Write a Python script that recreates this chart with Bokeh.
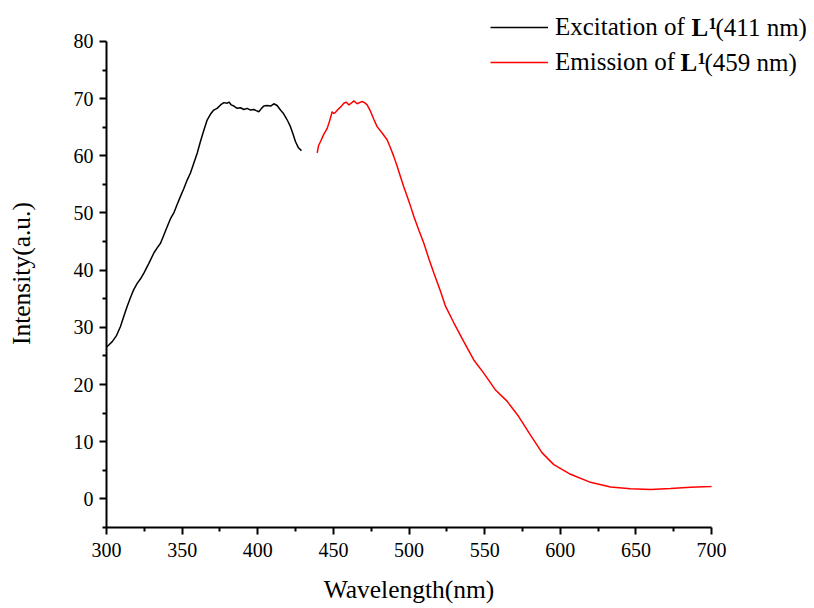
from bokeh.plotting import figure
from bokeh.models import Range1d, Legend, LegendItem, Label, FixedTicker
from bokeh.embed import file_html
from bokeh.resources import INLINE

# ---- data ----
exc_wl = [300.0, 301.5, 303.8, 306.5, 309.3, 311.5, 313.7, 316.0, 318.0, 320.3, 322.5, 324.7,
          328.0, 331.3, 333.5, 335.7, 338.0, 340.1, 342.3, 344.5, 346.7, 348.9, 351.0, 353.4,
          355.5, 357.7, 360.0, 362.1, 364.4, 366.6, 368.8, 370.9, 373.1, 375.4, 377.6, 379.8,
          381.0, 382.5, 384.2, 386.4, 388.6, 390.8, 393.0, 395.2, 397.4, 399.0, 400.7, 402.5,
          404.0, 406.0, 408.5, 410.6, 412.8, 415.0, 416.7, 418.3, 420.0, 421.6, 423.2, 424.9,
          426.9, 428.9]
exc_int = [26.6, 26.9, 27.5, 28.5, 30.2, 32.0, 33.7, 35.3, 36.6, 37.7, 38.5, 39.5,
           41.2, 43.0, 43.9, 44.7, 46.2, 47.6, 49.0, 50.0, 51.5, 52.9, 54.2, 55.8,
           57.0, 58.7, 60.5, 62.5, 64.5, 66.3, 67.3, 68.0, 68.3, 68.9, 69.3, 69.2,
           69.4, 68.9, 68.7, 68.3, 68.4, 68.1, 68.3, 68.0, 68.1, 67.9, 67.7, 68.3,
           68.7, 68.8, 68.7, 69.1, 68.8, 68.0, 67.5, 66.8, 66.0, 65.1, 63.9, 62.5,
           61.4, 60.9]

em_wl = [439.3, 440.2, 441.5, 443.7, 445.9, 447.6, 449.2, 450.3, 451.4, 453.0, 455.0, 456.9,
         458.5, 460.2, 461.8, 463.5, 465.7, 467.3, 469.0, 470.6, 472.3, 474.5, 476.7, 478.9,
         482.2, 485.5, 487.7, 489.9, 492.1, 494.3, 496.5, 498.8, 501.0, 503.2, 506.5, 509.8,
         513.1, 516.4, 520.8, 524.1, 529.6, 536.2, 542.8, 549.4, 557.0, 564.8, 572.5, 580.2,
         588.0, 595.7, 606.8, 620.0, 633.2, 646.4, 659.7, 672.9, 686.1, 699.3, 700.0]
em_int = [60.5, 61.8, 62.5, 63.8, 64.8, 66.2, 67.7, 67.4, 67.6, 68.1, 68.6, 69.2,
          69.4, 68.9, 69.2, 69.6, 69.1, 69.3, 69.5, 69.3, 68.9, 67.8, 66.4, 65.1,
          64.0, 62.8, 61.4, 59.9, 58.2, 56.4, 54.6, 52.9, 51.2, 49.4, 47.0, 44.7,
          42.0, 39.5, 36.3, 33.7, 30.8, 27.5, 24.3, 22.0, 19.1, 17.1, 14.4, 11.2,
          8.05, 6.0, 4.3, 2.9, 2.1, 1.76, 1.64, 1.8, 2.05, 2.17, 2.18]

x_ticks = [300, 350, 400, 450, 500, 550, 600, 650, 700]
x_minor = [325, 375, 425, 475, 525, 575, 625, 675]
y_ticks = [0, 10, 20, 30, 40, 50, 60, 70, 80]
y_minor = [-5, 5, 15, 25, 35, 45, 55, 65, 75]

FONT = "Liberation Serif"

# the frame reaches the top/right of the canvas so the legend (outside the axes) is not clipped;
# axis bounds keep the axis lines at 300-700 nm and -5-80.
p = figure(width=813, height=606, output_backend="svg", toolbar_location=None,
           x_range=Range1d(300, 767.4), y_range=Range1d(-5, 87.16),
           min_border_left=106, min_border_right=0, min_border_top=0, min_border_bottom=78)
p.outline_line_color = None
p.xgrid.visible = False
p.ygrid.visible = False
p.background_fill_color = "white"
p.border_fill_color = "white"

p.xaxis.ticker = FixedTicker(ticks=x_ticks, minor_ticks=x_minor)
p.yaxis.ticker = FixedTicker(ticks=y_ticks, minor_ticks=y_minor)
p.xaxis.bounds = (300, 700)
p.yaxis.bounds = (-5, 80)
# non-breaking spaces shift the centred labels over the bounded span of each axis
p.xaxis.axis_label = "Wavelength(nm)" + "\u00a0" * 16
p.yaxis.axis_label = "Intensity(a.u.)" + "\u00a0" * 3
for ax in (p.xaxis, p.yaxis):
    ax.axis_line_width = 2
    ax.axis_line_color = "black"
    ax.major_tick_line_width = 2
    ax.minor_tick_line_width = 2
    ax.major_tick_line_color = "black"
    ax.minor_tick_line_color = "black"
    ax.major_tick_out = 7
    ax.major_tick_in = 0
    ax.minor_tick_out = 4
    ax.minor_tick_in = 0
    ax.major_label_text_font = FONT
    ax.major_label_text_font_size = "20px"
    ax.major_label_text_color = "black"
    ax.axis_label_text_font = FONT
    ax.axis_label_text_font_size = "25.5px"
    ax.axis_label_text_font_style = "normal"
    ax.axis_label_text_color = "black"
p.xaxis.major_label_standoff = 8
p.xaxis.axis_label_standoff = 15
p.yaxis.major_label_standoff = 6
p.yaxis.axis_label_standoff = 35

r1 = p.line(exc_wl, exc_int, line_color="black", line_width=1.5)
r2 = p.line(em_wl, em_int, line_color="red", line_width=1.5)

legend = Legend(items=[LegendItem(label="Excitation of", renderers=[r1]),
                       LegendItem(label="Emission of", renderers=[r2])],
                location=(384, 451), padding=0, margin=0, spacing=7,
                glyph_width=58, glyph_height=28, label_height=28, label_standoff=7,
                label_text_font=FONT, label_text_font_size="25px", label_text_color="black",
                border_line_color=None, background_fill_alpha=0)
p.add_layout(legend, "center")

def lab(x, y, text, size="25px", bold=False):
    p.add_layout(Label(x=x, y=y, x_units="screen", y_units="screen", text=text,
                       text_font=FONT, text_font_size=size,
                       text_font_style="bold" if bold else "normal",
                       text_baseline="middle", text_align="left", text_color="black"))

# row 1
lab(585, 500, "L", bold=True)
lab(602, 504, "1", size="16px", bold=True)
lab(609, 500, "(411 nm)")
# row 2
lab(574, 465, "L", bold=True)
lab(591, 469, "1", size="16px", bold=True)
lab(598, 465, "(459 nm)")

open("out.html", "w").write(file_html(p, INLINE))
